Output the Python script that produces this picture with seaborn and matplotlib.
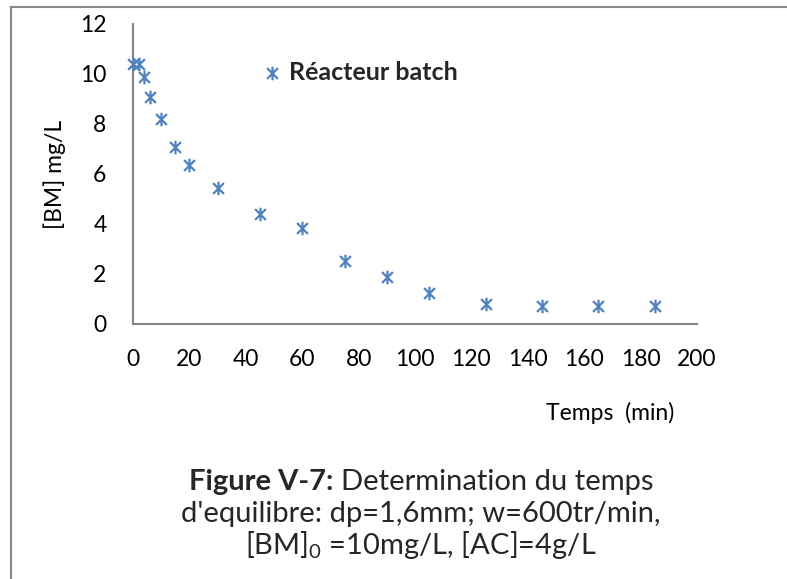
import numpy as np
import pandas as pd
import seaborn as sns
import matplotlib.pyplot as plt
from matplotlib.path import Path
from matplotlib.lines import Line2D

# ---- data ----
temps = [0, 2, 4, 6, 10, 15, 20, 30, 45, 60, 75, 90, 105, 125, 145, 165, 185]
bm = [10.4, 10.4, 9.87, 9.07, 8.2, 7.1, 6.36, 5.44, 4.4, 3.84, 2.52, 1.88, 1.24, 0.8, 0.72, 0.72, 0.72]
serie = "Réacteur batch"
x_ticks = [0, 20, 40, 60, 80, 100, 120, 140, 160, 180, 200]
y_ticks = [0, 2, 4, 6, 8, 10, 12]
x_label = "Temps  (min)"
y_label = "[BM] mg/L"
cap_bold = "Figure V-7:"
cap_line1 = "Determination du temps"
cap_line2 = "d'equilibre: dp=1,6mm; w=600tr/min,"
cap_line3 = "[BM]$_0$ =10mg/L, [AC]=4g/L"

W, H = 787, 579
blue = "#4F81BD"
gray = "#868686"

sns.set_theme(style="white")
plt.rcParams['font.family'] = ['Lato', 'DejaVu Sans']
plt.rcParams['mathtext.fontset'] = 'custom'
plt.rcParams['mathtext.rm'] = 'Lato'
plt.rcParams['mathtext.default'] = 'regular'

fig = plt.figure(figsize=(W / 100, H / 100), dpi=100)
fig.patch.set_facecolor("white")
ax = fig.add_axes([133 / W, 1 - 324 / H, 564 / W, 300 / H])

df = pd.DataFrame({"Temps": temps, "BM": bm})
star = Path([(0, -1), (0, 1), (-0.8, -0.8), (0.8, 0.8), (-0.8, 0.8), (0.8, -0.8)],
            [Path.MOVETO, Path.LINETO] * 3)
sns.scatterplot(data=df, x="Temps", y="BM", marker=star, s=95, color=blue,
                edgecolor=blue, linewidth=1.6, ax=ax, label=serie, legend=False,
                clip_on=False, zorder=3)

ax.set_xlim(0, 200)
ax.set_ylim(0, 12)
ax.set_xticks(x_ticks)
ax.set_yticks(y_ticks)
ax.tick_params(axis="both", length=0, labelsize=16.5, colors="black")
ax.tick_params(axis="y", pad=19)
ax.tick_params(axis="x", pad=18)
for s in ["top", "right"]:
    ax.spines[s].set_visible(False)
for s in ["left", "bottom"]:
    ax.spines[s].set_color(gray)
    ax.spines[s].set_linewidth(1.5)
ax.grid(False)

ax.set_xlabel(x_label, fontsize=16.5, color="black")
ax.set_ylabel(y_label, fontsize=16.5, color="black")
ax.xaxis.set_label_coords((610 - 133) / 564, (324 - 402) / 300)
ax.yaxis.set_label_coords((66 - 133) / 564, 0.5)

leg = ax.legend(loc="center left", bbox_to_anchor=(259 / W, 1 - 72 / H),
                bbox_transform=fig.transFigure, frameon=False, handlelength=1.0,
                handletextpad=0.2, borderpad=0, borderaxespad=0,
                prop={"weight": "bold", "size": 18})

# caption
cx = 421 / W
fs_cap = 21
tb = fig.text(0, 1 - 490 / H, cap_bold, fontsize=fs_cap, weight="bold", va="baseline", ha="left")
tr = fig.text(0, 1 - 490 / H, cap_line1, fontsize=fs_cap, va="baseline", ha="left")
fig.text(cx, 1 - 522 / H, cap_line2, fontsize=fs_cap, va="baseline", ha="center")
fig.text(cx, 1 - 554 / H, cap_line3, fontsize=fs_cap, va="baseline", ha="center")
fig.canvas.draw()
r = fig.canvas.get_renderer()
wb = tb.get_window_extent(r).width
wr = tr.get_window_extent(r).width
gap = fs_cap * 100 / 72 * 0.26
total = wb + gap + wr
x0 = cx * W - total / 2
tb.set_x(x0 / W)
tr.set_x((x0 + wb + gap) / W)

# outer border (left and top)
fig.add_artist(Line2D([11 / W, 11 / W], [0, 1 - 7 / H], transform=fig.transFigure,
                      color="#888888", lw=1.5, solid_capstyle="projecting"))
fig.add_artist(Line2D([11 / W, 1], [1 - 7 / H, 1 - 7 / H], transform=fig.transFigure,
                      color="#888888", lw=1.5, solid_capstyle="projecting"))

fig.savefig("out.png", dpi=100, facecolor="white")
